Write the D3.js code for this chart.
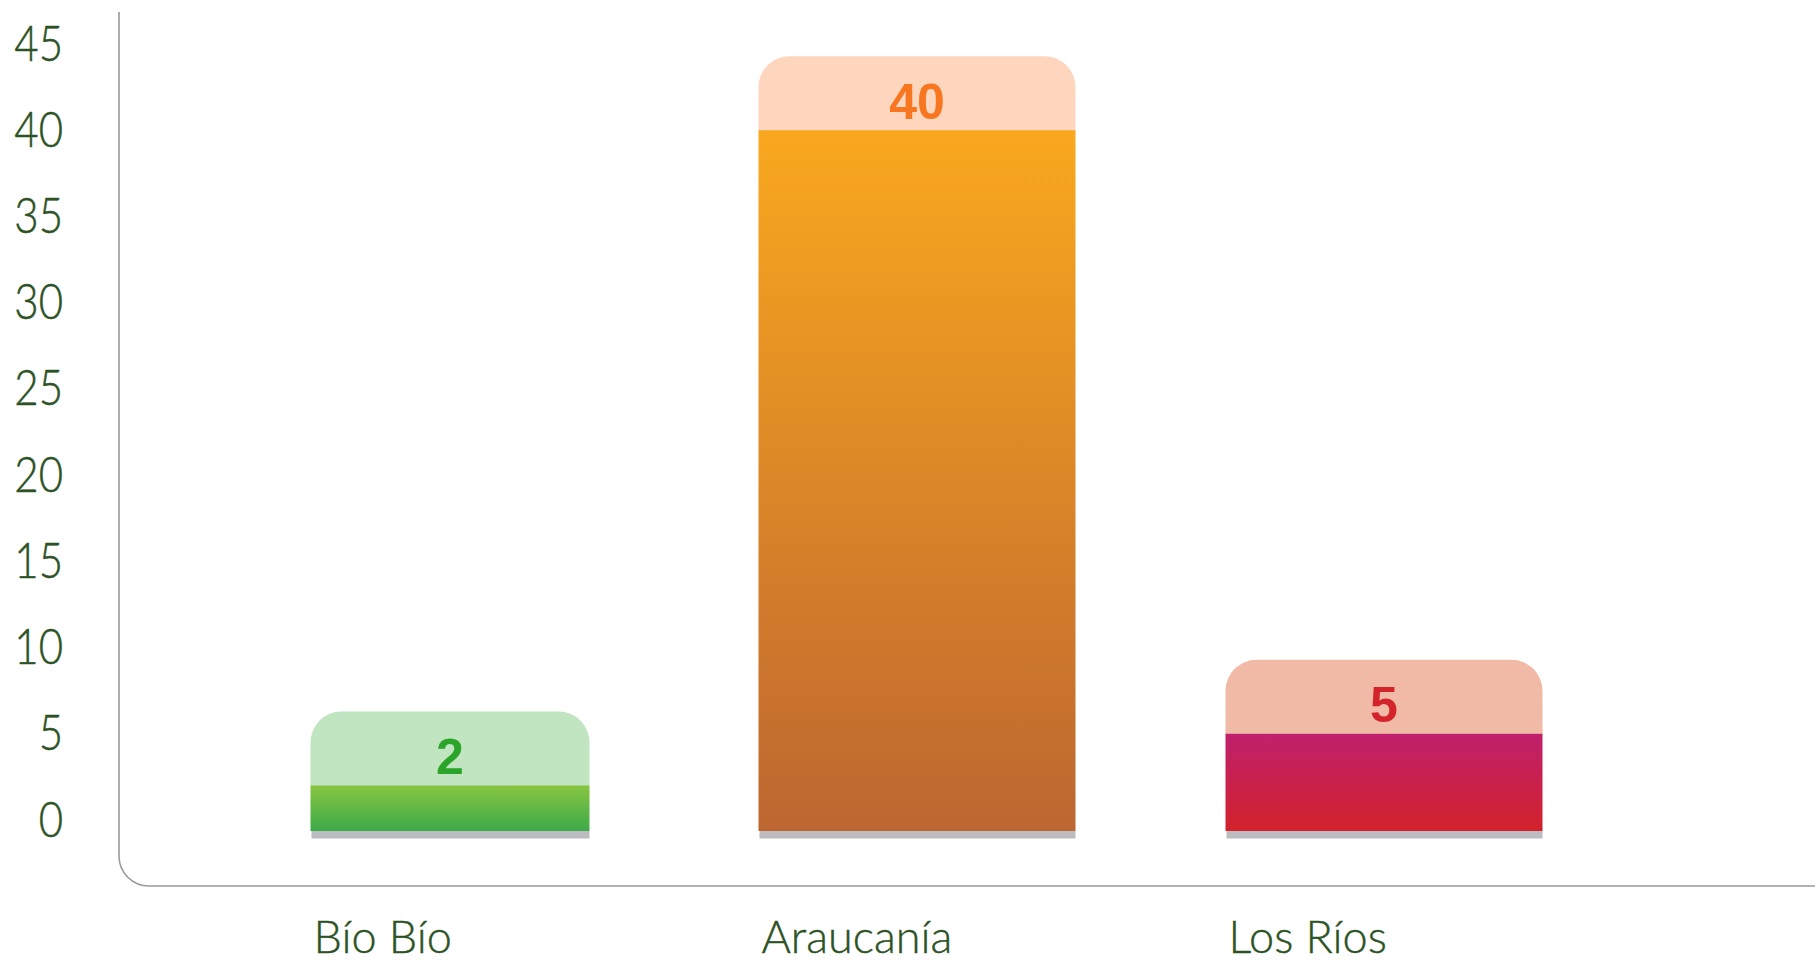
<!DOCTYPE html>
<html><head><meta charset="utf-8">
<script src="https://cdn.jsdelivr.net/npm/d3@7"></script>
<style>html,body{margin:0;padding:0;background:#fff;}svg{display:block;}</style>
</head><body>
<svg id="chart" width="1815" height="964"></svg>
<script>
// ---- data ----
const categories = ["Bío Bío", "Araucanía", "Los Ríos"];
const values = [2, 40, 5];
const yTickValues = [0, 5, 10, 15, 20, 25, 30, 35, 40, 45];

// ---- styles ----
const barTopColors = ["#87c540", "#f9a81e", "#c0206d"];
const barBottomColors = ["#3daa4a", "#bd6631", "#d2222b"];
const labelBoxColors = ["#c0e5c0", "#fed5bd", "#f1baa7"];
const labelTextColors = ["#2aa52a", "#f7761f", "#d3242c"];
const barWidths = [279, 317, 317];
const textGreen = "#2d5226";

const svg = d3.select("#chart");
const W = 1815, H = 964;

const y = d3.scaleLinear().domain([0, 45]).range([820, 44]);
const x = d3.scalePoint().domain(categories).range([450, 1384]);

const defs = svg.append("defs");
categories.forEach((c, i) => {
  const g = defs.append("linearGradient").attr("id", "grad" + i)
    .attr("x1", 0).attr("y1", 0).attr("x2", 0).attr("y2", 1);
  g.append("stop").attr("offset", "0%").attr("stop-color", barTopColors[i]);
  g.append("stop").attr("offset", "100%").attr("stop-color", barBottomColors[i]);
});

// frame (axis lines with rounded corner)
const axisX = 119, axisBottom = 886, r0 = 30;
svg.append("path")
  .attr("d", `M${axisX},12 L${axisX},${axisBottom - r0} A${r0},${r0} 0 0 0 ${axisX + r0},${axisBottom} L${W},${axisBottom}`)
  .attr("fill", "none").attr("stroke", "#9a9a9a").attr("stroke-width", 1.6);

// y axis labels
const sx = 0.84, pad = 56;
const yAxis = svg.append("g").attr("transform", `translate(${axisX},0)`)
  .call(d3.axisLeft(y).tickValues(yTickValues).tickSize(0).tickPadding(pad));
yAxis.select(".domain").remove();
yAxis.selectAll("text")
  .attr("x", -pad / sx)
  .attr("transform", `scale(${sx},1)`)
  .attr("fill", textGreen)
  .style("font-family", "Lato, 'Open Sans', sans-serif")
  .style("font-weight", 300)
  .style("font-size", "50px")
  .style("stroke", textGreen)
  .style("stroke-width", 0.5);

const extra = 11; // bars extend slightly below zero line
const boxH = 74, rr = 31;

const bars = svg.append("g").selectAll("g").data(values).join("g");

// grey shadow
bars.append("rect")
  .attr("x", (d, i) => x(categories[i]) - barWidths[i] / 2 + 1)
  .attr("width", (d, i) => barWidths[i] - 1)
  .attr("y", y(0) + extra)
  .attr("height", 7.5)
  .attr("fill", "#bcbcc0");

// label box (rounded top)
bars.append("path")
  .attr("d", (d, i) => {
    const l = x(categories[i]) - barWidths[i] / 2, rgt = l + barWidths[i];
    const b = y(d) + 0.5, t = y(d) - boxH;
    return `M${l},${b} L${l},${t + rr} A${rr},${rr} 0 0 1 ${l + rr},${t} L${rgt - rr},${t} A${rr},${rr} 0 0 1 ${rgt},${t + rr} L${rgt},${b} Z`;
  })
  .attr("fill", (d, i) => labelBoxColors[i]);

// bars
bars.append("rect")
  .attr("x", (d, i) => x(categories[i]) - barWidths[i] / 2)
  .attr("width", (d, i) => barWidths[i])
  .attr("y", d => y(d))
  .attr("height", d => y(0) + extra - y(d))
  .attr("fill", (d, i) => `url(#grad${i})`);

// value labels
bars.append("text")
  .attr("x", (d, i) => x(categories[i]))
  .attr("y", d => y(d) - 11.5)
  .attr("text-anchor", "middle")
  .attr("fill", (d, i) => labelTextColors[i])
  .style("font-family", "'Liberation Sans', Arial, sans-serif")
  .style("font-weight", 700)
  .style("font-size", "50px")
  .text(d => d);

// category labels
svg.append("g").selectAll("text").data(categories).join("text")
  .attr("x", (d, i) => x(d) - barWidths[i] / 2 + 3)
  .attr("y", 953)
  .attr("fill", textGreen)
  .style("font-family", "Lato, 'Open Sans', sans-serif")
  .style("font-weight", 300)
  .style("font-size", "45px")
  .style("stroke", textGreen)
  .style("stroke-width", 0.4)
  .text(d => d);
</script>
</body></html>
